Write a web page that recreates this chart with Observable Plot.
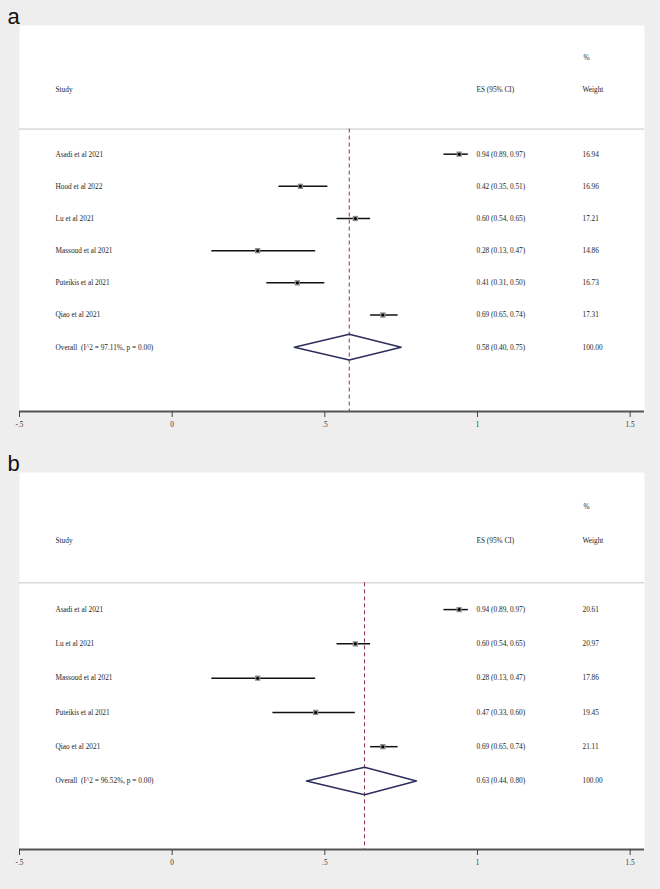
<!DOCTYPE html>
<html>
<head>
<meta charset="utf-8">
<script src="https://cdn.jsdelivr.net/npm/d3@7"></script>
<script src="https://cdn.jsdelivr.net/npm/@observablehq/plot@0.6"></script>
<style>
  html, body { margin: 0; padding: 0; background: #eeeeee; }
  svg { display: block; }
</style>
</head>
<body>
<div id="chart"></div>
<script>
// ---------- Data: panel a ----------
const studiesA = ["Asadi et al 2021", "Hood et al 2022", "Lu et al 2021", "Massoud et al 2021", "Puteikis et al 2021", "Qiao et al 2021"];
const esA = [0.94, 0.42, 0.60, 0.28, 0.41, 0.69];
const loA = [0.89, 0.35, 0.54, 0.13, 0.31, 0.65];
const hiA = [0.97, 0.51, 0.65, 0.47, 0.50, 0.74];
const weightA = ["16.94", "16.96", "17.21", "14.86", "16.73", "17.31"];
const overallLabelA = "Overall  (I^2 = 97.11%, p = 0.00)";
const overallA = [0.58, 0.40, 0.75]; // es, lo, hi
const overallWeightA = "100.00";

// ---------- Data: panel b ----------
const studiesB = ["Asadi et al 2021", "Lu et al 2021", "Massoud et al 2021", "Puteikis et al 2021", "Qiao et al 2021"];
const esB = [0.94, 0.60, 0.28, 0.47, 0.69];
const loB = [0.89, 0.54, 0.13, 0.33, 0.65];
const hiB = [0.97, 0.65, 0.47, 0.60, 0.74];
const weightB = ["20.61", "20.97", "17.86", "19.45", "21.11"];
const overallLabelB = "Overall  (I^2 = 96.52%, p = 0.00)";
const overallB = [0.63, 0.44, 0.80];
const overallWeightB = "100.00";

// ---------- Axis ----------
const xTicks = [-0.5, 0, 0.5, 1, 1.5];
const xTickLabels = ["-.5", "0", ".5", "1", "1.5"];
const headerCols = ["Study", "ES (95% CI)", "Weight"];

const fmt = v => v.toFixed(2);

function panel(letter, studies, es, lo, hi, weight, overallLabel, overall, overallWeight, height, marginTop, marginBottom) {
  const n = studies.length;
  const rows = studies.map((s, i) => ({
    i, study: s, es: es[i], lo: lo[i], hi: hi[i],
    ci: `${fmt(es[i])} (${fmt(lo[i])}, ${fmt(hi[i])})`,
    w: weight[i]
  }));
  const oy = n; // overall row
  const [oes, olo, ohi] = overall;
  const h = 0.4;
  const diamond = [
    {x: olo, y: oy}, {x: oes, y: oy - h}, {x: ohi, y: oy}, {x: oes, y: oy + h}, {x: olo, y: oy}
  ];
  const yTop = -4, yBottom = n + 2, sep = -0.78;
  const serif = "'Liberation Serif', 'Times New Roman', serif";
  const txt = {fontFamily: serif, fontSize: 7.3, fill: "#1e1e1e", textAnchor: "start", frameAnchor: "left"};

  return Plot.plot({
    width: 660,
    height,
    marginLeft: 19,
    marginRight: 16,
    marginTop,
    marginBottom,
    style: {background: "#eeeeee", fontFamily: serif, fontSize: "7px", color: "#333"},
    x: {domain: [-0.5, 1.547]},
    y: {domain: [yTop, yBottom], reverse: true, axis: null},
    marks: [
      Plot.frame({fill: "white", stroke: null}),
      // header
      Plot.text([headerCols[0]], {...txt, y: -2, dx: 36}),
      Plot.text([headerCols[1]], {...txt, y: -2, dx: 457}),
      Plot.text([headerCols[2]], {...txt, y: -2, dx: 563}),
      Plot.text(["%"], {...txt, y: -3, dx: 564}),
      Plot.ruleY([sep], {stroke: "#c4c4c4", strokeWidth: 1}),
      // reference line at overall estimate
      Plot.ruleX([oes], {y1: sep, y2: yBottom, stroke: "#8e3346", strokeWidth: 1, strokeDasharray: "4,3"}),
      // CIs
      Plot.ruleY(rows, {y: "i", x1: "lo", x2: "hi", stroke: "#111", strokeWidth: 1.5}),
      Plot.dot(rows, {x: "es", y: "i", symbol: "square", r: 3, fill: "#8c8c8c", stroke: null}),
      Plot.dot(rows, {x: "es", y: "i", r: 1.5, fill: "#000", stroke: null}),
      // diamond
      Plot.line(diamond, {x: "x", y: "y", stroke: "#2e2e5e", strokeWidth: 1.5}),
      // row text
      Plot.text(rows, {...txt, y: "i", text: "study", dx: 36}),
      Plot.text(rows, {...txt, y: "i", text: "ci", dx: 457}),
      Plot.text(rows, {...txt, y: "i", text: "w", dx: 563}),
      Plot.text([overallLabel], {...txt, y: oy, dx: 36}),
      Plot.text([`${fmt(oes)} (${fmt(olo)}, ${fmt(ohi)})`], {...txt, y: oy, dx: 457}),
      Plot.text([overallWeight], {...txt, y: oy, dx: 563}),
      // x axis
      Plot.ruleY([yBottom], {stroke: "#555", strokeWidth: 2}),
      Plot.axisX({
        ticks: xTicks,
        tickFormat: (d) => xTickLabels[xTicks.indexOf(d)],
        tickSize: 6,
        tickPadding: 4,
        stroke: "#444",
        fill: "#333",
        fontSize: 7.3,
        fontFamily: serif,
        label: null
      }),
      // panel letter
      Plot.text([letter], {
        frameAnchor: "top-left", dx: -12, dy: -2, textAnchor: "start", lineAnchor: "bottom",
        fontSize: 22, fontFamily: "'Liberation Sans', Arial, sans-serif", fill: "#111"
      })
    ]
  });
}

const root = document.getElementById("chart");
root.append(panel("a", studiesA, esA, loA, hiA, weightA, overallLabelA, overallA, overallWeightA, 445, 25, 34));
root.append(panel("b", studiesB, esB, loB, hiB, weightB, overallLabelB, overallB, overallWeightB, 444, 27, 40));
</script>
</body>
</html>
